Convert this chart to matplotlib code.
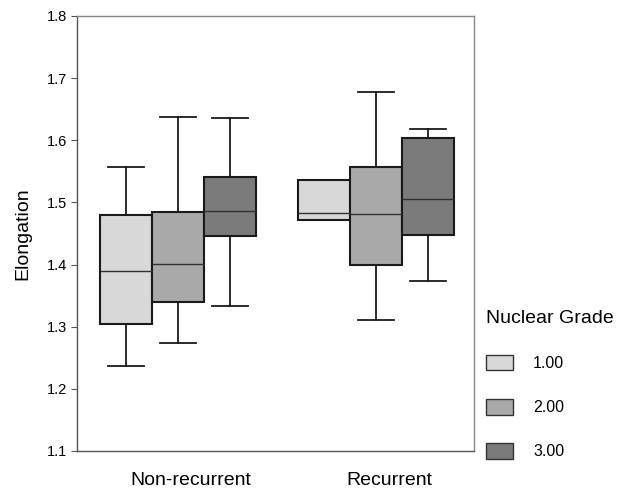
import matplotlib
matplotlib.use("Agg")
import matplotlib.pyplot as plt
import matplotlib.transforms as mtransforms
from matplotlib.patches import Patch

plt.rcParams['font.family'] = ['Liberation Sans', 'DejaVu Sans']

groups = ['Non-recurrent', 'Recurrent']
grades = ['1.00', '2.00', '3.00']
colors = ['#d8d8d8', '#a9a9a9', '#7b7b7b']

# per group, per grade: whisker low, q1, median, q3, whisker high
whislo = [[1.236, 1.273, 1.333], [1.472, 1.310, 1.374]]
q1     = [[1.305, 1.339, 1.446], [1.472, 1.399, 1.447]]
med    = [[1.389, 1.401, 1.486], [1.483, 1.482, 1.505]]
q3     = [[1.480, 1.485, 1.541], [1.536, 1.557, 1.603]]
whishi = [[1.557, 1.637, 1.636], [1.536, 1.677, 1.618]]

fig = plt.figure(figsize=(6.29, 4.98), dpi=100)
ax = fig.add_axes([0.1224, 0.0944, 0.6312, 0.8735])

width = 0.263
for g in range(len(groups)):
    for k in range(len(grades)):
        stats = [dict(whislo=whislo[g][k], q1=q1[g][k], med=med[g][k],
                      q3=q3[g][k], whishi=whishi[g][k], fliers=[])]
        pos = g + 1 + (k - 1) * width
        ax.bxp(stats, positions=[pos], widths=width, patch_artist=True,
               showfliers=False, manage_ticks=False,
               boxprops=dict(facecolor=colors[k], edgecolor='#1a1a1a', linewidth=1.5),
               medianprops=dict(color='#303030', linewidth=1.0),
               whiskerprops=dict(color='#1a1a1a', linewidth=1.3),
               capprops=dict(color='#1a1a1a', linewidth=1.3),
               capwidths=width * 0.7)

ax.set_xlim(0.49, 2.495)
ax.set_ylim(1.1, 1.8)
ax.set_yticks([1.1, 1.2, 1.3, 1.4, 1.5, 1.6, 1.7, 1.8])
ax.set_yticklabels(['1.1', '1.2', '1.3', '1.4', '1.5', '1.6', '1.7', '1.8'], fontsize=10.5)
ax.tick_params(axis='y', length=4, color='#555555', pad=3)
ax.set_xticks([1, 2])
ax.set_xticklabels(groups, fontsize=14)
ax.tick_params(axis='x', length=0, pad=15)
offset = mtransforms.ScaledTranslation(13 / 100, 0, fig.dpi_scale_trans)
for lbl in ax.get_xticklabels():
    lbl.set_transform(lbl.get_transform() + offset)

ax.set_ylabel('Elongation', fontsize=14, labelpad=11)

ax.spines['left'].set_color('#555555')
ax.spines['bottom'].set_color('#555555')
ax.spines['top'].set_color('#888888')
ax.spines['right'].set_color('#888888')
for s in ax.spines.values():
    s.set_linewidth(1.0)

handles = [Patch(facecolor=c, edgecolor='#333333', linewidth=1.0) for c in colors]
fig.legend(handles, grades, title='Nuclear Grade', loc='upper left',
           bbox_to_anchor=(0.7727, 0.378), frameon=False, fontsize=11.5,
           title_fontsize=14, alignment='left', borderpad=0, borderaxespad=0,
           handlelength=1.69, handleheight=1.13, handletextpad=1.25,
           labelspacing=1.75)

fig.savefig('out.png', dpi=100)
